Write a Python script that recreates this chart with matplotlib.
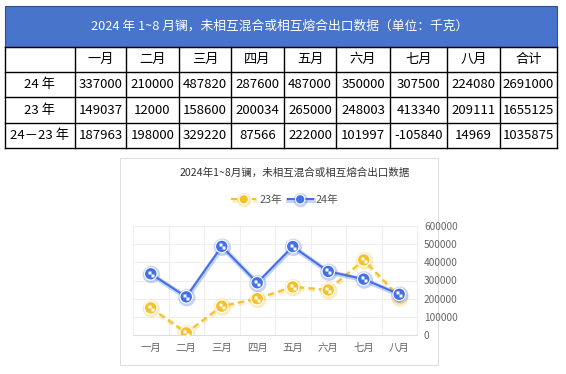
import matplotlib.pyplot as plt
import matplotlib.patheffects as pe
from matplotlib.path import Path
from matplotlib.patches import Rectangle

plt.rcParams['font.family'] = ['Noto Sans CJK SC', 'DejaVu Sans']

# data
months = ['一月', '二月', '三月', '四月', '五月', '六月', '七月', '八月']
row_names = ['24 年', '23 年', '24－23 年']
y24 = [337000, 210000, 487820, 287600, 487000, 350000, 307500, 224080]
y23 = [149037, 12000, 158600, 200034, 265000, 248003, 413340, 209111]
diff = [187963, 198000, 329220, 87566, 222000, 101997, -105840, 14969]
totals = [2691000, 1655125, 1035875]
table_title = '2024 年 1~8 月镧，未相互混合或相互熔合出口数据（单位：千克）'
chart_title = '2024年1~8月镧，未相互混合或相互熔合出口数据'
yticks = [0, 100000, 200000, 300000, 400000, 500000, 600000]

blue = '#4470e6'
gold = '#f2c12e'

W, H = 566, 374
fig = plt.figure(figsize=(W / 100, H / 100), dpi=100)

# overlay axes in pixel coords for the table
ov = fig.add_axes([0, 0, 1, 1])
ov.set_xlim(0, W)
ov.set_ylim(H, 0)
ov.axis('off')

col_x = [5, 75, 126, 179, 231, 284, 336, 390, 447, 500, 557]
row_y = [47, 72, 97, 123, 148]

ov.add_patch(Rectangle((5, 6), 552, 41, facecolor='#4874cb', edgecolor='#2f4f8f', lw=0.8))
ov.text(280, 26, table_title, color='white', ha='center', va='center', fontsize=9.2)

for yy in row_y:
    ov.plot([col_x[0], col_x[-1]], [yy, yy], color='black', lw=1)
for xx in col_x:
    ov.plot([xx, xx], [row_y[0], row_y[-1]], color='black', lw=1)

header = months + ['合计']
for j, h in enumerate(header):
    cx = (col_x[j + 1] + col_x[j + 2]) / 2
    ov.text(cx, (row_y[0] + row_y[1]) / 2, h, ha='center', va='center', fontsize=9.5)

rows = [y24 + [totals[0]], y23 + [totals[1]], diff + [totals[2]]]
for i, (name, vals) in enumerate(zip(row_names, rows)):
    cy = (row_y[i + 1] + row_y[i + 2]) / 2
    ov.text((col_x[0] + col_x[1]) / 2, cy, name, ha='center', va='center', fontsize=9.5)
    for j, v in enumerate(vals):
        cx = (col_x[j + 1] + col_x[j + 2]) / 2
        ov.text(cx, cy, str(v), ha='center', va='center', fontsize=9.5)

# chart box
ov.add_patch(Rectangle((120, 158), 318, 207, facecolor='white', edgecolor='#dddddd', lw=0.8))
ov.text(295, 173, chart_title, ha='center', va='center', fontsize=7.6, color='#333333')

# checker marker
checker = Path([(-0.5, 0), (0, 0), (0, 0.5), (-0.5, 0.5), (-0.5, 0),
                (0, -0.5), (0.5, -0.5), (0.5, 0), (0, 0), (0, -0.5)],
               [Path.MOVETO, Path.LINETO, Path.LINETO, Path.LINETO, Path.CLOSEPOLY,
                Path.MOVETO, Path.LINETO, Path.LINETO, Path.LINETO, Path.CLOSEPOLY])

ax = fig.add_axes([133 / W, (H - 335) / H, 284 / W, 109 / H])
x = list(range(len(months)))


def glow(c):
    return [pe.SimpleLineShadow(offset=(0.4, -0.6), shadow_color=c, alpha=0.3, linewidth=3.5), pe.Normal()]


ax.plot(x, y23, color=gold, lw=1.5, ls=(0, (3, 2)), marker='o', ms=9,
        mfc=gold, mec='white', mew=0.8, path_effects=glow(gold), zorder=3, label='23年')
ax.plot(x, y23, ls='none', marker=checker, ms=5, mfc='white', mec='none', zorder=4)
ax.plot(x, y24, color=blue, lw=1.5, marker='o', ms=9,
        mfc=blue, mec='white', mew=0.8, path_effects=glow(blue), zorder=5, label='24年')
ax.plot(x, y24, ls='none', marker=checker, ms=5, mfc='white', mec='none', zorder=6)

ax.set_xlim(-0.5, 7.5)
ax.set_ylim(0, 600000)
ax.set_xticks(x)
ax.set_xticklabels(months, fontsize=7.5, color='#666666')
ax.set_xticks([i - 0.5 for i in range(len(months) + 1)], minor=True)
ax.set_yticks(yticks)
ax.set_yticklabels([str(t) for t in yticks], fontsize=7.3, color='#666666')
ax.yaxis.tick_right()
ax.tick_params(axis='both', length=0, which='both')
ax.tick_params(axis='y', pad=5)
ax.tick_params(axis='x', pad=6)
ax.grid(True, which='minor', axis='x', color='#eeeeee', lw=0.8)
ax.grid(True, which='major', axis='y', color='#eeeeee', lw=0.8)
for s in ['top', 'left']:
    ax.spines[s].set_visible(False)
ax.spines['bottom'].set_color('#dddddd')
ax.spines['right'].set_color('#eeeeee')

leg = ax.legend(loc='center', bbox_to_anchor=(285 / W, (H - 200) / H), bbox_transform=fig.transFigure,
                ncol=2, frameon=False, fontsize=7.8, handlelength=2.3, columnspacing=0.5,
                handletextpad=0.3, markerscale=0.75)
for t in leg.get_texts():
    t.set_color('#555555')

fig.savefig('out.png', dpi=100)
